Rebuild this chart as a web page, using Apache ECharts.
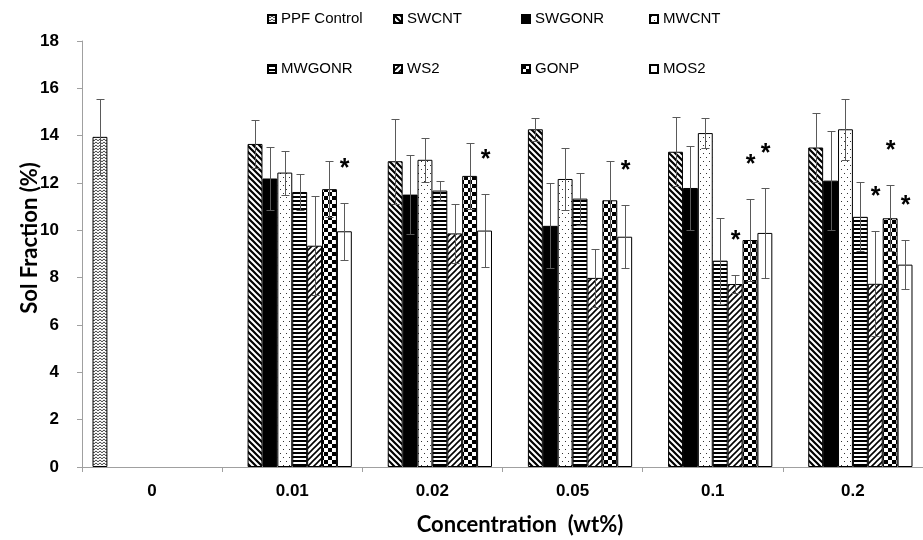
<!DOCTYPE html>
<html>
<head>
<meta charset="utf-8">
<script src="https://cdn.jsdelivr.net/npm/echarts@6/dist/echarts.min.js"></script>
<style>
  html, body { margin: 0; padding: 0; background: #fff; }
  #chart { width: 923px; height: 540px; }
</style>
</head>
<body>
<div id="chart"></div>
<script>
// Concentration groups on the x axis
const categories = ['0', '0.01', '0.02', '0.05', '0.1', '0.2'];
const yTicks = { min: 0, max: 18, interval: 2 };

// Sol fraction (%) per filler, one value per concentration
const ppfControl = [13.95, null, null, null, null, null];
const swcnt  = [null, 13.65, 12.92, 14.27, 13.32, 13.50];
const swgonr = [null, 12.19, 11.51, 10.19, 11.79, 12.10];
const mwcnt  = [null, 12.44, 12.98, 12.17, 14.11, 14.27];
const mwgonr = [null, 11.62, 11.68, 11.34, 8.72, 10.57];
const ws2    = [null, 9.35, 9.87, 7.99, 7.73, 7.74];
const gonp   = [null, 11.74, 12.30, 11.27, 9.59, 10.51];
const mos2   = [null, 9.96, 9.99, 9.73, 9.89, 8.55];

// Standard deviations (symmetric error bars)
const ppfControlErr = [1.62, null, null, null, null, null];
const swcntErr  = [null, 1.00, 1.80, 0.49, 1.46, 1.47];
const swgonrErr = [null, 1.32, 1.66, 1.80, 1.76, 2.08];
const mwcntErr  = [null, 0.93, 0.93, 1.30, 0.62, 1.30];
const mwgonrErr = [null, 0.75, 0.42, 1.10, 1.82, 1.46];
const ws2Err    = [null, 2.09, 1.25, 1.24, 0.38, 2.22];
const gonpErr   = [null, 1.18, 1.38, 1.68, 1.72, 1.39];
const mos2Err   = [null, 1.20, 1.55, 1.33, 1.89, 1.03];

// Significance flags (1 = asterisk above the error bar)
const ppfControlSig = [0, 0, 0, 0, 0, 0];
const swcntSig  = [0, 0, 0, 0, 0, 0];
const swgonrSig = [0, 0, 0, 0, 0, 0];
const mwcntSig  = [0, 0, 0, 0, 0, 0];
const mwgonrSig = [0, 0, 0, 0, 0, 0];
const ws2Sig    = [0, 0, 0, 0, 1, 1];
const gonpSig   = [0, 0, 0, 0, 1, 1];
const mos2Sig   = [0, 1, 1, 1, 1, 1];

const seriesNames = ['PPF Control', 'SWCNT', 'SWGONR', 'MWCNT', 'MWGONR', 'WS2', 'GONP', 'MOS2'];
const seriesValues = [ppfControl, swcnt, swgonr, mwcnt, mwgonr, ws2, gonp, mos2];
const seriesErrors = [ppfControlErr, swcntErr, swgonrErr, mwcntErr, mwgonrErr, ws2Err, gonpErr, mos2Err];
const seriesSig = [ppfControlSig, swcntSig, swgonrSig, mwcntSig, mwgonrSig, ws2Sig, gonpSig, mos2Sig];

// ---- monochrome fill patterns ----
function tile(w, h, draw) {
  const c = document.createElement('canvas');
  c.width = w; c.height = h;
  const ctx = c.getContext('2d');
  ctx.fillStyle = '#fff';
  ctx.fillRect(0, 0, w, h);
  draw(ctx, w, h);
  return { image: c, repeat: 'repeat' };
}
const waves = tile(4, 3, (ctx) => {
  ctx.strokeStyle = '#111'; ctx.lineWidth = 1;
  ctx.beginPath();
  ctx.moveTo(0, 0.8); ctx.bezierCurveTo(1, 3, 3, 3, 4, 0.8);
  ctx.stroke();
});
const backDiag = tile(6, 6, (ctx) => {
  ctx.strokeStyle = '#000'; ctx.lineWidth = 2.2;
  ctx.beginPath();
  for (const k of [-6, 0, 6]) { ctx.moveTo(k - 1, -1); ctx.lineTo(k + 7, 7); }
  ctx.stroke();
});
const fwdDiag = tile(6, 6, (ctx) => {
  ctx.strokeStyle = '#000'; ctx.lineWidth = 1.6;
  ctx.beginPath();
  for (const k of [-6, 0, 6]) { ctx.moveTo(k - 1, 7); ctx.lineTo(k + 7, -1); }
  ctx.stroke();
});
const dots = tile(6, 8, (ctx) => {
  ctx.fillStyle = '#333';
  ctx.fillRect(1, 1, 1, 1);
  ctx.fillRect(4, 5, 1, 1);
});
const hStripes = tile(4, 4, (ctx) => {
  ctx.fillStyle = '#000';
  ctx.fillRect(0, 0, 4, 2);
});
const checker = tile(8, 8, (ctx) => {
  ctx.fillStyle = '#000';
  ctx.fillRect(0, 0, 4, 4);
  ctx.fillRect(4, 4, 4, 4);
});
const fills = [waves, backDiag, '#000', dots, hStripes, fwdDiag, checker, '#fff'];

const BAR_GAP_RATIO = 0.15;
const N = seriesNames.length;

const barSeries = seriesNames.map((name, i) => ({
  type: 'bar',
  name: name,
  data: seriesValues[i],
  barGap: '0%',
  barCategoryGap: (BAR_GAP_RATIO * 100) + '%',
  itemStyle: { color: fills[i], borderColor: '#000', borderWidth: 1 },
  emphasis: { disabled: true },
  z: 2
}));

// error bar items: [categoryIndex, value, error, slot, significant]
const errData = [];
seriesValues.forEach((vals, s) => {
  vals.forEach((v, c) => {
    if (v != null) errData.push([c, v, seriesErrors[s][c], s, seriesSig[s][c]]);
  });
});

const errorSeries = {
  type: 'custom',
  name: 'error',
  data: errData,
  encode: { x: 0, y: 1 },
  z: 5,
  silent: true,
  renderItem: function (params, api) {
    const cat = api.value(0), v = api.value(1), e = api.value(2);
    const slot = api.value(3), sig = api.value(4);
    const band = api.size([1, 0])[0];
    const bw = band * (1 - BAR_GAP_RATIO) / N;
    const center = api.coord([cat, v]);
    const x = Math.round(center[0] + (slot - (N - 1) / 2) * bw) + 0.5;
    const yTop = Math.round(api.coord([cat, v + e])[1]) + 0.5;
    const yBot = Math.round(api.coord([cat, v - e])[1]) + 0.5;
    const cap = 4;
    const stroke = { stroke: '#5a5a5a', lineWidth: 1 };
    const children = [
      { type: 'line', shape: { x1: x, y1: yTop, x2: x, y2: yBot }, style: stroke },
      { type: 'line', shape: { x1: x - cap, y1: yTop, x2: x + cap, y2: yTop }, style: stroke },
      { type: 'line', shape: { x1: x - cap, y1: yBot, x2: x + cap, y2: yBot }, style: stroke }
    ];
    if (sig) {
      children.push({
        type: 'text',
        style: {
          text: '*', x: x, y: yTop - 34,
          align: 'center', verticalAlign: 'middle',
          font: 'bold 25px "Liberation Sans", Arial, sans-serif', fill: '#000'
        }
      });
    }
    return { type: 'group', children: children };
  }
};

const legendCols = [267, 393, 521, 649];
const legendRows = [11, 61];
const legends = seriesNames.map((n, i) => ({
  data: [n],
  left: legendCols[i % 4],
  top: legendRows[Math.floor(i / 4)],
  padding: 0,
  icon: 'rect',
  itemWidth: 8,
  itemHeight: 8,
  itemGap: 0,
  selectedMode: false,
  textStyle: { fontSize: 15, lineHeight: 16, color: '#000', fontFamily: '"Liberation Sans", Arial, sans-serif' }
}));

const chart = echarts.init(document.getElementById('chart'), null, { renderer: 'canvas' });
chart.setOption({
  animation: false,
  backgroundColor: '#fff',
  legend: legends,
  grid: { left: 82, right: -6, top: 41, bottom: 73, containLabel: false },
  xAxis: {
    type: 'category',
    data: categories,
    axisLine: { lineStyle: { color: '#a0a0a0', width: 1 } },
    axisTick: { show: true, length: 5, lineStyle: { color: '#a0a0a0' } },
    axisLabel: {
      interval: 0, margin: 16, color: '#000',
      fontSize: 17, fontWeight: 'bold', fontFamily: '"Liberation Sans", Arial, sans-serif'
    },
    splitLine: { show: false }
  },
  yAxis: {
    type: 'value',
    min: yTicks.min, max: yTicks.max, interval: yTicks.interval,
    axisLine: { show: true, lineStyle: { color: '#a0a0a0', width: 1 } },
    axisTick: { show: true, length: 5, lineStyle: { color: '#a0a0a0' } },
    axisLabel: {
      margin: 23, color: '#000',
      fontSize: 17, fontWeight: 'bold', fontFamily: '"Liberation Sans", Arial, sans-serif'
    },
    splitLine: { show: false }
  },
  graphic: [
    {
      type: 'text', x: 520, y: 525,
      style: {
        text: 'Concentration  (wt%)', align: 'center', verticalAlign: 'middle',
        font: 'bold 22px Lato, "Open Sans", sans-serif', fill: '#000'
      }
    },
    {
      type: 'text', x: 30, y: 238, rotation: Math.PI / 2,
      style: {
        text: 'Sol Fraction (%)', align: 'center', verticalAlign: 'middle',
        font: 'bold 22px Lato, "Open Sans", sans-serif', fill: '#000'
      }
    }
  ],
  series: barSeries.concat([errorSeries])
});
</script>
</body>
</html>
